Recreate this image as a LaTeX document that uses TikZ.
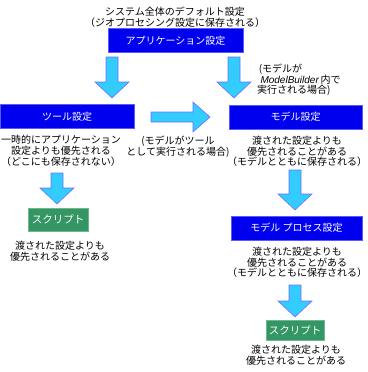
\documentclass[tikz,border=0pt]{standalone}
\usepackage{fontspec}
\setmainfont{Noto Sans CJK JP}
\newfontfamily\latinfont{Liberation Sans}
\usetikzlibrary{calc}
\definecolor{boxblue}{RGB}{0,0,238}
\definecolor{boxedge}{RGB}{90,90,255}
\definecolor{scriptgreen}{RGB}{51,150,100}
\definecolor{scriptedge}{RGB}{110,185,140}
\definecolor{arrowcyan}{RGB}{51,204,255}
\definecolor{arrowedge}{RGB}{110,110,255}
\tikzset{
  bluebox/.style={draw=boxedge, fill=boxblue, text=white, line width=0.8pt, inner sep=0pt,
    minimum height=24pt, font=\fontsize{10}{12}\selectfont},
  greenbox/.style={draw=scriptedge, fill=scriptgreen, text=white, line width=0.8pt, inner sep=0pt,
    minimum width=59pt, font=\fontsize{10.5}{12}\selectfont},
  note/.style={inner sep=0pt, align=center, font=\fontsize{10}{10.6}\selectfont},
  arrowfill/.style={fill=arrowcyan, draw=arrowedge, line width=0.6pt, line join=miter}
}
% vertical block arrow from (#1) down to tip (#2)
\newcommand{\blkdown}[2]{%
  \path[arrowfill] let \p1=(#1), \p2=(#2) in
    (\x1-6pt,\y1) -- (\x1+6pt,\y1) -- (\x1+6pt,\y2+16pt) -- (\x1+17pt,\y2+16pt)
    -- (\x2,\y2) -- (\x1-17pt,\y2+16pt) -- (\x1-6pt,\y2+16pt) -- cycle;}
% horizontal block arrow from (#1) right to tip (#2)
\newcommand{\blkright}[2]{%
  \path[arrowfill] let \p1=(#1), \p2=(#2) in
    (\x1,\y1+5pt) -- (\x1,\y1-5pt) -- (\x2-17pt,\y1-5pt) -- (\x2-17pt,\y1-15pt)
    -- (\x2,\y2) -- (\x2-17pt,\y1+15pt) -- (\x2-17pt,\y1+5pt) -- cycle;}
\begin{document}
\begin{tikzpicture}[x=1pt,y=-1pt]
\useasboundingbox (0,0) rectangle (367,372);

% top text
\node[note, font=\fontsize{10}{11}\selectfont] (sys) at (175,17.5)
  {システム全体のデフォルト設定\\（ジオプロセシング設定に保存される）};

% boxes
\node[bluebox, minimum width=135pt] (app) at (175.5,40.5) {アプリケーション設定};
\node[bluebox, minimum width=134pt] (tool) at (67,116.5) {ツール設定};
\node[bluebox, minimum width=133pt] (model) at (295.5,117) {モデル設定};
\node[bluebox, minimum width=131pt] (proc) at (296.5,228) {モデル プロセス設定};
\node[greenbox, minimum width=60pt, minimum height=23pt] (scr1) at (58,219.5) {スクリプト};
\node[greenbox, minimum width=58pt, minimum height=20pt] (scr2) at (295,330.5) {スクリプト};

% notes
\node[note, font=\fontsize{10}{10}\selectfont, align=left, anchor=west] (mbnote) at (257,80)
  {\,(モデルが\\ \,\,{\latinfont\itshape ModelBuilder}\,内で\\実行される場合)};
\node[note, font=\fontsize{10}{11}\selectfont] (toolnote) at (61,151)
  {一時的にアプリケーション\\設定よりも優先される\\（どこにも保存されない）};
\node[note] (midnote) at (178,147)
  {(モデルがツール\\として実行される場合)};
\node[note] (modelnote) at (297,151.5)
  {渡された設定よりも\\優先されることがある\\（モデルとともに保存される）};
\node[note] (scr1note) at (60,251)
  {渡された設定よりも\\優先されることがある};
\node[note] (procnote) at (297,262.5)
  {渡された設定よりも\\優先されることがある\\（モデルとともに保存される）};
\node[note] (scr2note) at (296,355.5)
  {渡された設定よりも\\優先されることがある};

% arrow end points
\coordinate (a1s) at (112,57);  \coordinate (a1e) at (112,98);
\coordinate (a2s) at (234,57);  \coordinate (a2e) at (234,98);
\coordinate (a3s) at (57,173);  \coordinate (a3e) at (57,204);
\coordinate (a4s) at (295,170); \coordinate (a4e) at (295,210);
\coordinate (a5s) at (295,285); \coordinate (a5e) at (295,317);
\coordinate (hs) at (151,117);  \coordinate (he) at (210,117);

\blkdown{a1s}{a1e}
\blkdown{a2s}{a2e}
\blkdown{a3s}{a3e}
\blkdown{a4s}{a4e}
\blkdown{a5s}{a5e}
\blkright{hs}{he}
\end{tikzpicture}
\end{document}
